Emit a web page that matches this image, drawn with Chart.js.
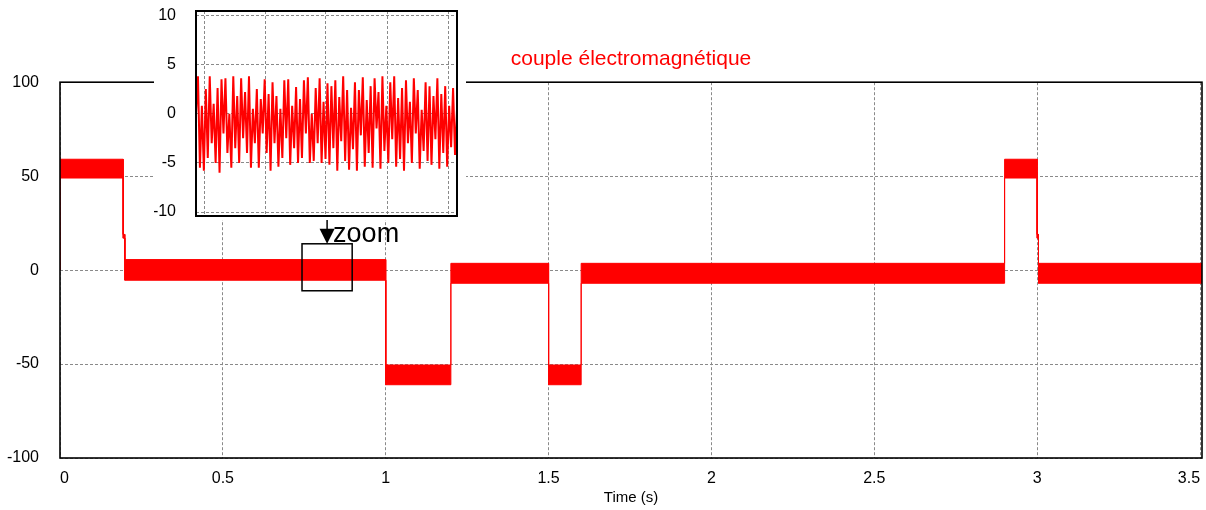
<!DOCTYPE html>
<html>
<head>
<meta charset="utf-8">
<script src="https://cdn.jsdelivr.net/npm/chart.js@4.4.1/dist/chart.umd.min.js"></script>
<style>
html, body { margin: 0; padding: 0; background: #fff; }
#wrap { position: relative; width: 1206px; height: 510px; overflow: hidden; }
#main { position: absolute; left: 0; top: 0; }
#insetBox { position: absolute; left: 154px; top: 0; width: 312px; height: 220px; background: #fff; }
#inset { display: block; }
</style>
</head>
<body>
<div id="wrap">
  <canvas id="main" width="1206" height="510"></canvas>
  <div id="insetBox"><canvas id="inset" width="312" height="220"></canvas></div>
</div>
<script>
// ---------- data ----------
const xTicks = [0, 0.5, 1, 1.5, 2, 2.5, 3, 3.5];
const yTicks = [-100, -50, 0, 50, 100];
const xMax = 3.506;

// envelope of the electromagnetic torque ripple band (time in s, value in N.m)
const bandTime  = [0,  0,   0.194, 0.194, 0.199, 0.199, 1.0,  1.0,   1.2,   1.2,  1.5,  1.5,   1.6,   1.6,  2.9,  2.9, 3.0, 3.0, 3.004, 3.004, 3.506];
const bandUpper = [0,  59,  59,    19,    19,    5.6,   5.6,  -50.5, -50.5, 3.6,  3.6,  -50.5, -50.5, 3.6,  3.6,  59,  59,  19,  19,    3.6,   3.6];
const bandLower = [0,  49,  49,    17,    17,    -5.4,  -5.4, -61,   -61,   -7.0, -7.0, -61,   -61,   -7.0, -7.0, 49,  49,  17,  17,    -7.0,  -7.0];

// zoom window (time range and value range)
const zoomTime  = [0.743, 0.897];
const zoomValue = [-11, 14];

// inset: zoomed torque samples
const insetValues = [
  0, 3.8, -5.5, 0.8, -5.8, 2.5, -4.5, 3.8, -3, 1,
  -5, 2.6, -6, 3.5, -2, 3.6, -4, 0, -5.5, 3.8,
  -3.5, 1.8, -5, 3.6, -2.5, 2.2, -4, 3.8, -5.5, 0.5,
  -3, 2.5, -5.5, 1.5, -2, 3.5, -4, 2, -5.8, 3.2,
  -3, 1.8, -5.4, 0.5, -4.5, 3.4, -2.5, 3.5, -5.2, 0.8,
  -3.5, 2.7, -5, 1.5, -4.5, 3.4, -2, 3.7, -5, 0,
  -4.8, 2.6, -3, 3.6, -5, 1.2, -4.6, 3.1, -5.2, 2.8,
  -3.5, 3.4, -5.8, 1.7, -2.8, 3.8, -4.8, 2.4, -5.7, 0.6,
  -3.6, 3.2, -5.8, 2.4, -2.2, 3.7, -5.4, 1.4, -4, 2.8,
  -5.5, 3.6, -1.5, 2.2, -5.6, 3.8, -3.8, 0.8, -5, 3.2,
  -2.6, 3.8, -5.4, 1.6, -4.6, 2.6, -5.8, 3.4, -3, 1.2,
  -5, 3.6, -2, 2.4, -5.6, 0.4, -3.8, 3.2, -4.8, 2.8,
  -5.2, 1.8, -2.6, 3.6, -5.6, 2.0, -4.0, 2.8, -5.4, 0.8,
  -3.4, 2.6, -4.2, 0.4
];
const insetYTicks = [-10, -5, 0, 5, 10];
const insetGridX = [4.1, 35.4, 66.2, 97.4, 128.5];

// ---------- styles ----------
const FONT = "'Liberation Sans', Arial, Helvetica, sans-serif";
Chart.defaults.font.family = FONT;
Chart.defaults.color = '#000';
const RED = '#ff0000';
const GRID = '#8a8a8a';

const fixTicks = arr => scale => { scale.ticks = arr.map(v => ({ value: v })); };
const fitX = h => s => { s.height = h; s.paddingLeft = 0; s.paddingRight = 0; };
const fitY = w => s => { s.width = w; s.paddingTop = 0; s.paddingBottom = 0; };

// ---------- main chart decorations ----------
const mainDeco = {
  id: 'mainDeco',
  afterDraw(chart) {
    const { ctx, chartArea: a, scales: { x, y } } = chart;
    ctx.save();
    // frame
    ctx.strokeStyle = '#000';
    ctx.lineWidth = 1.6;
    ctx.strokeRect(a.left, a.top, a.right - a.left, a.bottom - a.top);
    // zoom rectangle
    const zx0 = x.getPixelForValue(zoomTime[0]);
    const zx1 = x.getPixelForValue(zoomTime[1]);
    const zy0 = y.getPixelForValue(zoomValue[1]);
    const zy1 = y.getPixelForValue(zoomValue[0]);
    ctx.lineWidth = 1.5;
    ctx.strokeRect(zx0, zy0, zx1 - zx0, zy1 - zy0);
    // arrow from inset to zoom rectangle
    const cx = (zx0 + zx1) / 2;
    ctx.beginPath();
    ctx.moveTo(cx, 214);
    ctx.lineTo(cx, zy0 - 12);
    ctx.stroke();
    ctx.fillStyle = '#000';
    ctx.beginPath();
    ctx.moveTo(cx - 7.5, zy0 - 15);
    ctx.lineTo(cx + 7.5, zy0 - 15);
    ctx.lineTo(cx, zy0);
    ctx.closePath();
    ctx.fill();
    // label
    ctx.font = '27px ' + FONT;
    ctx.textBaseline = 'alphabetic';
    ctx.textAlign = 'left';
    ctx.fillText('zoom', cx + 6, zy0 - 2);
    ctx.restore();
  }
};

new Chart(document.getElementById('main').getContext('2d'), {
  type: 'line',
  data: {
    datasets: [
      {
        label: 'lower',
        data: bandTime.map((t, i) => ({ x: t, y: bandLower[i] })),
        borderColor: RED, borderWidth: 1, pointRadius: 0, tension: 0, fill: false
      },
      {
        label: 'upper',
        data: bandTime.map((t, i) => ({ x: t, y: bandUpper[i] })),
        borderColor: RED, backgroundColor: RED, borderWidth: 1, pointRadius: 0, tension: 0, fill: '-1'
      }
    ]
  },
  options: {
    responsive: false,
    animation: false,
    devicePixelRatio: 1,
    layout: { padding: { top: 0, right: 4, bottom: 0, left: 0 } },
    plugins: {
      legend: { display: false },
      tooltip: { enabled: false },
      title: {
        display: true,
        text: 'couple électromagnétique',
        color: RED,
        fullSize: false,
        font: { size: 21, weight: 'normal', family: FONT },
        padding: { top: 47, bottom: 10 }
      }
    },
    scales: {
      x: {
        type: 'linear', min: 0, max: xMax,
        afterBuildTicks: fixTicks(xTicks),
        afterFit: fitX(52),
        ticks: { font: { size: 16 }, padding: 11, maxRotation: 0, autoSkip: false, align: 'inner', callback: v => String(v) },
        grid: { color: GRID, lineWidth: 1, drawTicks: false },
        border: { display: false, dash: [3, 2] },
        title: { display: true, text: 'Time (s)', font: { size: 15 }, padding: { top: 0, bottom: 3 } }
      },
      y: {
        min: -100, max: 100,
        afterBuildTicks: fixTicks(yTicks),
        afterFit: fitY(60),
        ticks: { font: { size: 16 }, padding: 21, callback: v => String(v) },
        grid: { color: GRID, lineWidth: 1, drawTicks: false },
        border: { display: false, dash: [3, 2] }
      }
    }
  },
  plugins: [mainDeco]
});

// ---------- inset ----------
const insetFrame = {
  id: 'insetFrame',
  afterDraw(chart) {
    const { ctx, chartArea: a } = chart;
    ctx.save();
    ctx.strokeStyle = '#000';
    ctx.lineWidth = 2;
    ctx.strokeRect(a.left, a.top, a.right - a.left, a.bottom - a.top);
    ctx.restore();
  }
};

new Chart(document.getElementById('inset').getContext('2d'), {
  type: 'line',
  data: {
    labels: insetValues.map((_, i) => i),
    datasets: [{
      data: insetValues,
      borderColor: RED, borderWidth: 2, pointRadius: 0, tension: 0, fill: false
    }]
  },
  options: {
    responsive: false,
    animation: false,
    devicePixelRatio: 1,
    layout: { padding: { top: 11, right: 9, bottom: 4, left: 0 } },
    plugins: { legend: { display: false }, tooltip: { enabled: false } },
    scales: {
      x: {
        type: 'linear', min: 0, max: insetValues.length - 1,
        afterBuildTicks: fixTicks(insetGridX),
        afterFit: fitX(0),
        ticks: { display: false },
        grid: { color: GRID, lineWidth: 1, drawTicks: false },
        border: { display: false, dash: [3, 2] }
      },
      y: {
        min: -10.4, max: 10.44,
        afterBuildTicks: fixTicks(insetYTicks),
        afterFit: fitY(42),
        ticks: { font: { size: 16 }, padding: 20, callback: v => String(v) },
        grid: { color: GRID, lineWidth: 1, drawTicks: false },
        border: { display: false, dash: [3, 2] }
      }
    }
  },
  plugins: [insetFrame]
});
</script>
</body>
</html>
